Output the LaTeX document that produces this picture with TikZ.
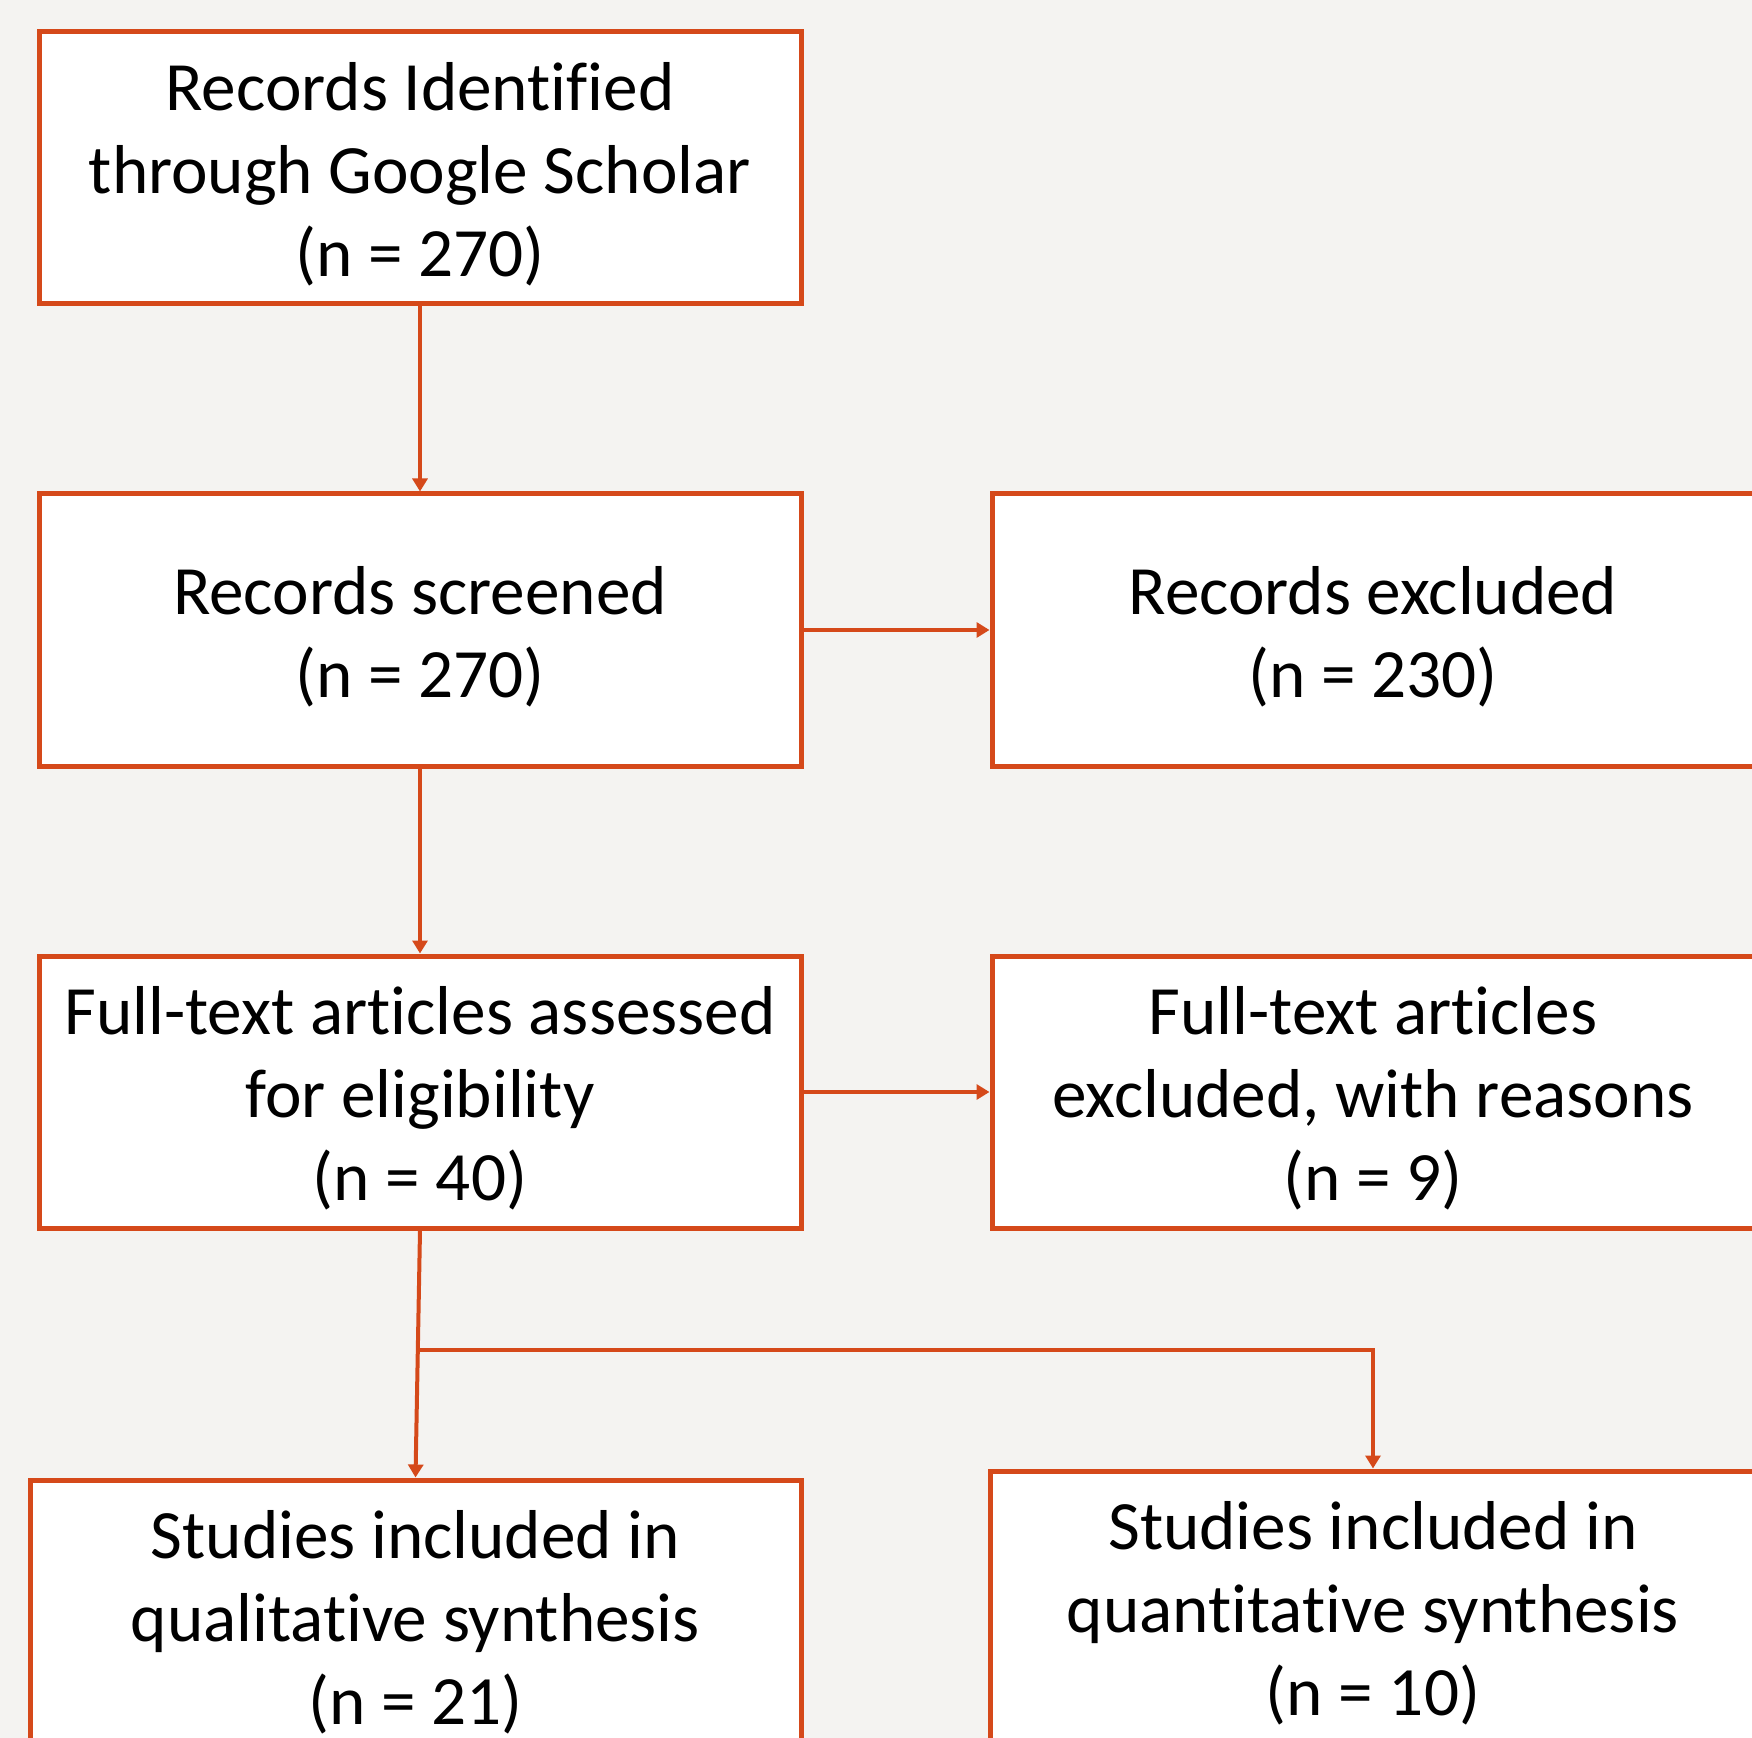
\documentclass[tikz,border=0pt]{standalone}
\usepackage{fontspec}
\setmainfont[Ligatures=NoCommon]{Carlito}
\usetikzlibrary{calc,arrows.meta}
\definecolor{edge}{HTML}{D5491A}
\definecolor{bg}{HTML}{F4F3F1}
\tikzset{
  box/.style={draw=edge, line width=2.5pt, fill=white, rectangle, inner sep=0pt,
    minimum height=136pt},
  txt/.style={inner sep=0pt, align=center, yshift=-3.2pt,
    font=\fontsize{34.6pt}{41.5pt}\selectfont},
  conn/.style={draw=edge, line width=2pt, -{Triangle[length=6.5pt,width=7.5pt]}}
}
\begin{document}
\begin{tikzpicture}[x=0.5pt,y=-0.5pt]
\useasboundingbox (0,0) rectangle (1752,1738);
\fill[bg] (0,0) rectangle (1752,1738);
\clip (0,0) rectangle (1752,1738);
\node[box, minimum width=381pt] (id) at (420,168) {};
\node[txt] (idt) at (id.center) {Records Identified\\through Google Scholar\\(n = 270)};
\node[box, minimum width=381pt] (scr) at (420,630) {};
\node[txt] (scrt) at (scr.center) {Records screened\\(n = 270)};
\node[box, minimum width=381pt] (full) at (420,1092) {};
\node[txt] (fullt) at (full.center) {Full-text articles assessed\\for eligibility\\(n = 40)};
\node[box, minimum width=381pt] (exc) at (1373,630) {};
\node[txt] (exct) at (exc.center) {Records excluded\\(n = 230)};
\node[box, minimum width=381pt] (fexc) at (1373,1092) {};
\node[txt] (fexct) at (fexc.center) {Full-text articles\\excluded, with reasons\\(n = 9)};
\node[box, minimum width=385.5pt] (qual) at (415.5,1616) {};
\node[txt] (qualt) at (qual.center) {Studies included in\\qualitative synthesis\\(n = 21)};
\node[box, minimum width=383pt] (quant) at (1373,1607) {};
\node[txt] (quantt) at (quant.center) {Studies included in\\quantitative synthesis\\(n = 10)};
\draw[conn] (id.south) -- (scr.north);
\draw[conn] (scr.south) -- (full.north);
\draw[conn] (scr.east) -- (exc.west);
\draw[conn] (full.east) -- (fexc.west);
\draw[conn] (full.south) -- (qual.north);
\coordinate (br) at ($(full.south)!0.484!(qual.north)$);
\draw[conn] (br) -| (quant.north);
\end{tikzpicture}
\end{document}
